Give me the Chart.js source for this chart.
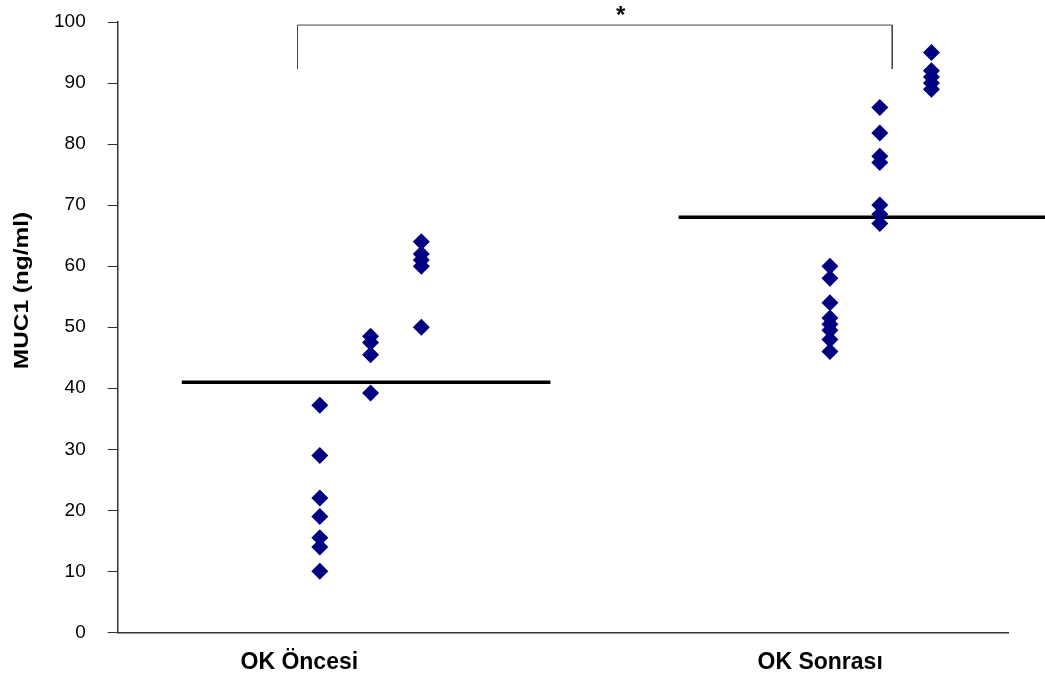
<!DOCTYPE html>
<html>
<head>
<meta charset="utf-8">
<script src="https://cdn.jsdelivr.net/npm/chart.js@4"></script>
<style>
  body { margin: 0; background: #fff; }
  canvas { display: block; }
</style>
</head>
<body>
<canvas id="mucChart" width="1045" height="680"></canvas>
<script>
// Groups and values
const categories = ["OK Öncesi", "OK Sonrası"];
const yTicks = [0, 10, 20, 30, 40, 50, 60, 70, 80, 90, 100];
const axisTitle = "MUC1 (ng/ml)";
const significance = "*";

// OK Öncesi, three sub-columns
const beforeCol1 = [37.2, 29, 22, 19, 15.5, 14, 10];
const beforeCol2 = [48.5, 47.5, 45.5, 39.2];
const beforeCol3 = [64, 62, 61, 60, 50];
// OK Sonrası, three sub-columns
const afterCol1 = [60, 58, 54, 51.5, 50.5, 49.5, 48, 46];
const afterCol2 = [86, 81.8, 78, 77, 70, 68.5, 67];
const afterCol3 = [95, 92, 91, 90, 89];

const groupMeans = [41, 68];

// horizontal placement on a 0..10 x scale
const categoryX = [2.04, 7.89];
const beforeColX = [2.27, 2.84, 3.41];
const afterColX = [8.0, 8.56, 9.14];
const meanSpan = [[0.72, 4.86], [6.3, 10.42]];
const bracketX = [2.02, 8.7];
const bracketY = [92.3, 99.5];

function column(x, values) {
  return values.map(v => ({ x: x, y: v }));
}

const points = []
  .concat(column(beforeColX[0], beforeCol1))
  .concat(column(beforeColX[1], beforeCol2))
  .concat(column(beforeColX[2], beforeCol3))
  .concat(column(afterColX[0], afterCol1))
  .concat(column(afterColX[1], afterCol2))
  .concat(column(afterColX[2], afterCol3));

const meanLine = (i) => ({
  type: "line",
  data: [{ x: meanSpan[i][0], y: groupMeans[i] }, { x: meanSpan[i][1], y: groupMeans[i] }],
  borderColor: "#000",
  borderWidth: 3.5,
  pointRadius: 0,
  clip: false,
});

// y axis title and the star over the bracket
const extraText = {
  id: "extraText",
  afterDraw(chart) {
    const { ctx, scales } = chart;
    ctx.save();
    ctx.fillStyle = "#000";
    ctx.translate(22, scales.y.getPixelForValue(56));
    ctx.rotate(-Math.PI / 2);
    ctx.scale(1.22, 1);
    ctx.font = "bold 20px 'Liberation Sans', Arial, sans-serif";
    ctx.textAlign = "center";
    ctx.textBaseline = "middle";
    ctx.fillText(axisTitle, 0, 0);
    ctx.restore();

    ctx.save();
    ctx.fillStyle = "#000";
    ctx.font = "bold 24px 'Liberation Sans', Arial, sans-serif";
    ctx.textAlign = "center";
    ctx.textBaseline = "middle";
    ctx.fillText(significance, scales.x.getPixelForValue(5.65), 16);
    ctx.restore();
  },
};

new Chart(document.getElementById("mucChart"), {
  type: "scatter",
  data: {
    datasets: [
      {
        data: points,
        pointStyle: "rectRot",
        pointRadius: 8.5,
        pointHoverRadius: 8.5,
        backgroundColor: "#000080",
        borderColor: "#000080",
        borderWidth: 0,
      },
      meanLine(0),
      meanLine(1),
      {
        type: "line",
        data: [
          { x: bracketX[0], y: bracketY[0] },
          { x: bracketX[0], y: bracketY[1] },
          { x: bracketX[1], y: bracketY[1] },
          { x: bracketX[1], y: bracketY[0] },
        ],
        borderColor: "#444",
        borderWidth: 1,
        pointRadius: 0,
        clip: false,
      },
    ],
  },
  options: {
    responsive: false,
    animation: false,
    layout: { autoPadding: false, padding: { left: 32, top: 22, right: 37, bottom: -12 } },
    plugins: {
      legend: { display: false },
      tooltip: { enabled: false },
    },
    scales: {
      x: {
        type: "linear",
        min: 0,
        max: 10,
        afterBuildTicks: (axis) => {
          axis.ticks = categoryX.map(v => ({ value: v }));
        },
        ticks: {
          autoSkip: false,
          maxRotation: 0,
          padding: 16,
          color: "#000",
          font: { family: "'Liberation Sans', Arial, sans-serif", size: 23, weight: "bold" },
          callback: (value, index) => categories[index],
        },
        grid: { display: false, drawTicks: false },
        border: { display: true, color: "#333", width: 1.5 },
      },
      y: {
        min: 0,
        max: 100,
        afterBuildTicks: (axis) => {
          axis.ticks = yTicks.map(v => ({ value: v }));
        },
        afterFit: (axis) => {
          axis.paddingTop = 0;
          axis.paddingBottom = 0;
        },
        ticks: {
          padding: 22,
          color: "#000",
          font: { family: "'Liberation Sans', Arial, sans-serif", size: 19 },
        },
        grid: { drawOnChartArea: false, drawTicks: true, tickLength: 10, color: "#333", lineWidth: 1 },
        border: { display: true, color: "#333", width: 1.5 },
      },
    },
  },
  plugins: [extraText],
});
</script>
</body>
</html>
